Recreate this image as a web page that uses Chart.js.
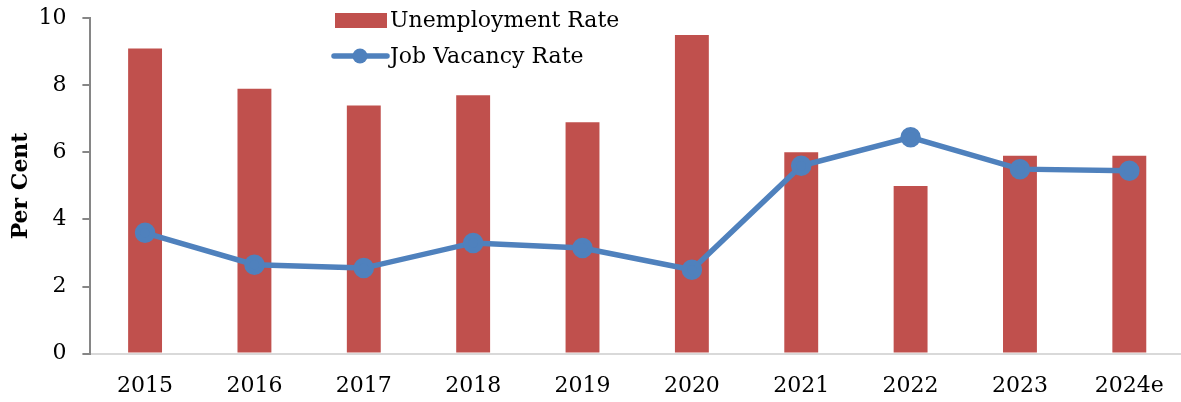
<!DOCTYPE html>
<html>
<head>
<meta charset="utf-8">
<script src="https://cdn.jsdelivr.net/npm/chart.js@4"></script>
<style>
  html, body { margin: 0; padding: 0; background: #fff; overflow: hidden; }
  /* 원본은 오른쪽 끝이 잘려 있어서 캔버스를 조금 넓게 잡고 자름 */
  #wrap { width: 1181px; height: 402px; overflow: hidden; }
</style>
</head>
<body>
<div id="wrap"><canvas id="myChart" width="1197" height="410"></canvas></div>
<script>
// 데이터
const years = ["2015", "2016", "2017", "2018", "2019", "2020", "2021", "2022", "2023", "2024e"];
const unemployment = [9.1, 7.9, 7.4, 7.7, 6.9, 9.5, 6.0, 5.0, 5.9, 5.9];
const vacancy = [3.6, 2.65, 2.55, 3.3, 3.15, 2.5, 5.6, 6.45, 5.5, 5.45];
const yTicks = [0, 2, 4, 6, 8, 10];

const FONT = "'DejaVu Serif', serif";

// 범례 직접 그리기 (세로로 쌓인 범례)
const legendPlugin = {
	id: "vlegend",
	afterDatasetsDraw(chart) {
		const c = chart.ctx;
		const bar = chart.data.datasets.find(d => d.type === "bar");
		const line = chart.data.datasets.find(d => d.type === "line");
		c.save();
		c.font = "22px " + FONT;
		c.textBaseline = "middle";
		// 막대
		c.fillStyle = bar.backgroundColor;
		c.fillRect(335, 13, 52, 15);
		c.fillStyle = "#000";
		c.fillText(bar.label, 390, 21);
		// 선
		c.strokeStyle = line.borderColor;
		c.lineWidth = 5.5;
		c.lineCap = "round";
		c.beginPath();
		c.moveTo(334, 56);
		c.lineTo(387, 56);
		c.stroke();
		c.fillStyle = line.borderColor;
		c.beginPath();
		c.arc(360, 56, 7.5, 0, Math.PI * 2);
		c.fill();
		c.fillStyle = "#000";
		c.fillText(line.label, 390, 57);
		c.restore();
	}
};

const ctx = document.getElementById("myChart");

new Chart(ctx, {
	data: {
		labels: years,
		datasets: [
			{
				type: "line",
				label: "Job Vacancy Rate",
				data: vacancy,
				borderColor: "#4F81BD",
				backgroundColor: "#4F81BD",
				borderWidth: 5.5,
				pointRadius: 7.5,
				pointHoverRadius: 7.5,
				tension: 0,
				order: 1
			},
			{
				type: "bar",
				label: "Unemployment Rate",
				data: unemployment,
				backgroundColor: "#C0504D",
				barPercentage: 0.31,
				categoryPercentage: 1,
				order: 2
			}
		]
	},
	options: {
		responsive: false,
		animation: false,
		layout: { padding: { top: 7, right: 0, bottom: 0, left: 8 } },
		plugins: {
			legend: { display: false },
			tooltip: { enabled: false }
		},
		scales: {
			x: {
				grid: { display: false },
				border: { color: "#d9d9d9", width: 2 },
				ticks: { color: "#000", font: { family: FONT, size: 22 }, padding: 11, maxRotation: 0 }
			},
			y: {
				min: 0,
				max: 10,
				afterBuildTicks(axis) { axis.ticks = yTicks.map(v => ({ value: v })); },
				// 라벨과 눈금 사이 간격만 넓히고 나머지 여백은 되돌림
				afterFit(axis) {
					axis.width -= 12;
					axis.paddingTop -= 11;
					axis.paddingBottom -= 11;
				},
				grid: { drawOnChartArea: false, tickLength: 8, color: "#868686", lineWidth: 2 },
				border: { color: "#868686", width: 2 },
				ticks: { color: "#000", font: { family: FONT, size: 22 }, padding: 16 },
				title: {
					display: true,
					text: "Per Cent",
					color: "#000",
					font: { family: FONT, size: 22, weight: "bold" },
					padding: { top: 0, bottom: 0 }
				}
			}
		}
	},
	plugins: [legendPlugin]
});
</script>
</body>
</html>
